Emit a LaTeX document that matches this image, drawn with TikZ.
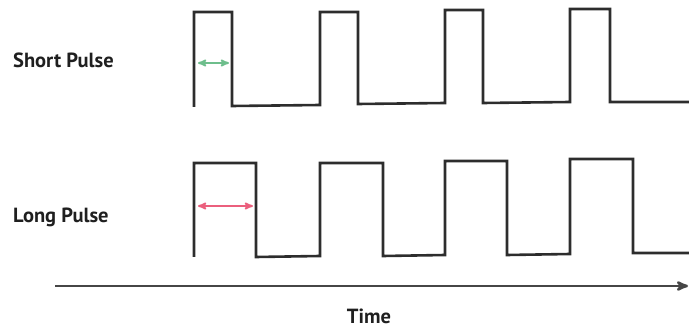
\documentclass[tikz,border=0pt]{standalone}
\usepackage{fontspec}
\setmainfont{PT Sans}
\usepackage{xcolor}
\usepackage{tikz}
\usetikzlibrary{arrows, positioning, calc}
\definecolor{wavegray}{RGB}{45, 45, 45}
\definecolor{axisgray}{RGB}{70, 70, 70}
\definecolor{shortgreen}{RGB}{110, 190, 140}
\definecolor{longpink}{RGB}{235, 95, 125}

\begin{document}
\begin{tikzpicture}[x=1pt, y=-1pt,
    wave/.style={wavegray, line width=2.6pt, line join=miter},
    label/.style={font=\fontsize{20.5}{24}\selectfont\bfseries, text=black!88, inner sep=0pt},
    width/.style={line width=1.8pt, <->, >=stealth'}]
    \useasboundingbox (0,0) rectangle (689,331);
    % short pulse train
    \coordinate (S0) at (194,107);
    \draw[wave] (S0) -- (194,12) -- (232,12) -- (232,106) -- (320,105)
        -- (320,12) -- (358,12) -- (358,104) -- (445,103)
        -- (445,10) -- (483,10) -- (483,103) -- (570,102)
        -- (570,9) -- (610,9) -- (610,102) -- (690,102);
    % long pulse train
    \coordinate (L0) at (194,257);
    \draw[wave] (L0) -- (194,163) -- (256,163) -- (256,257) -- (320,256)
        -- (320,163) -- (383,163) -- (383,256) -- (445,255)
        -- (445,161) -- (507,161) -- (507,255) -- (570,254)
        -- (570,159) -- (633,159) -- (633,253) -- (690,253);
    % pulse widths
    \coordinate (SA) at (198,63);
    \coordinate (SB) at (229,63);
    \draw[width, shortgreen] (SA) -- (SB);
    \coordinate (LA) at (198,206);
    \coordinate (LB) at (253,206);
    \draw[width, longpink] (LA) -- (LB);
    % labels
    \node[label, anchor=base west] (short) at (13,68) {Short Pulse};
    \node[label, anchor=base west] (long) at (13,223) {Long Pulse};
    % time axis
    \coordinate (T0) at (55,286);
    \coordinate (T1) at (688,286);
    \draw[axisgray, line width=2.6pt, ->, >=stealth'] (T0) -- (T1);
    \node[label, anchor=base] (time) at (369,324) {Time};
\end{tikzpicture}
\end{document}
